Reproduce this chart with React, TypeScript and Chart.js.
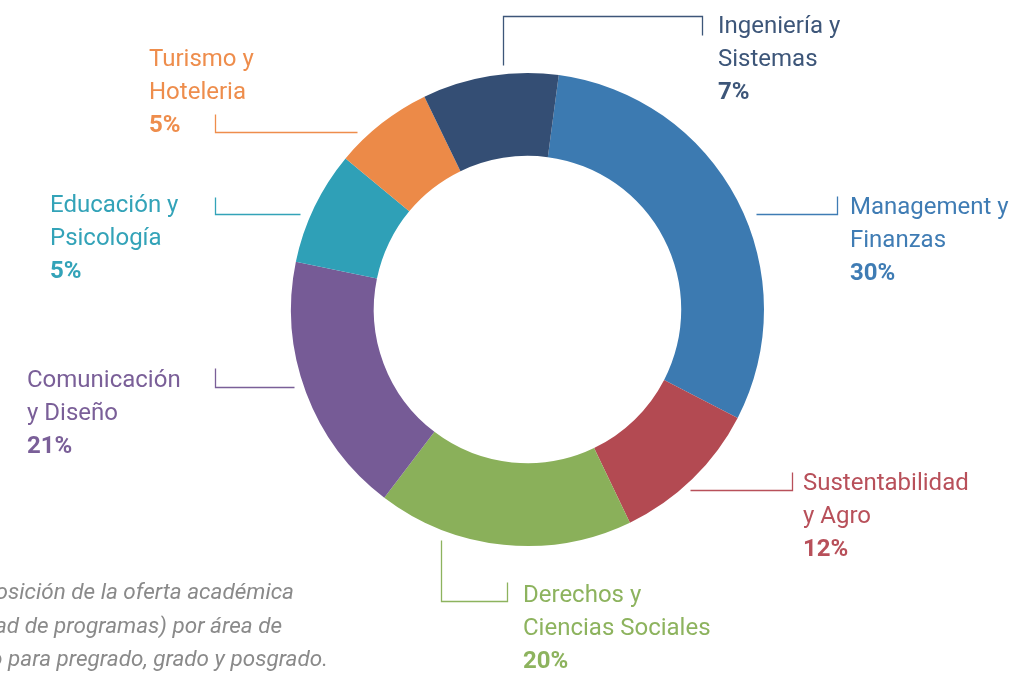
import React, { useEffect, useRef } from "react";
import { Chart, registerables } from "chart.js";

Chart.register(...registerables);

// ---- data ----
const categories = [
  "Management y Finanzas",
  "Sustentabilidad y Agro",
  "Derechos y Ciencias Sociales",
  "Comunicación y Diseño",
  "Educación y Psicología",
  "Turismo y Hoteleria",
  "Ingeniería y Sistemas",
];
const labelLines = [
  ["Management y", "Finanzas"],
  ["Sustentabilidad", "y Agro"],
  ["Derechos y", "Ciencias Sociales"],
  ["Comunicación", "y Diseño"],
  ["Educación y", "Psicología"],
  ["Turismo y", "Hoteleria"],
  ["Ingeniería y", "Sistemas"],
];
const percentLabels = ["30%", "12%", "20%", "21%", "5%", "5%", "7%"];
// arc sizes as measured on the picture
const arcValues = [30.5, 10.3, 17.5, 17.9, 7.8, 6.8, 9.3];
const captionLines = [
  "Composición de la oferta académica",
  "(cantidad de programas) por área de",
  "conocimiento para pregrado, grado y posgrado.",
];

// ---- styles / layout ----
const segColors = ["#3c7ab1", "#b34a52", "#8ab05a", "#765b96", "#2fa0b7", "#ec8a48", "#344e74"];
const textColors = ["#3f7cb4", "#b8505a", "#8db35e", "#7a5f98", "#33a3b8", "#ee8d4c", "#3d5679"];
const labelPos = [
  { x: 850, y: 214 },
  { x: 803, y: 490 },
  { x: 523, y: 602 },
  { x: 27, y: 387 },
  { x: 50, y: 212 },
  { x: 149, y: 66 },
  { x: 718, y: 33 },
];
const connectors: number[][][] = [
  [[756, 214], [837, 214], [837, 196]],
  [[690, 490], [792, 490], [792, 472]],
  [[441, 540], [441, 601], [507, 601], [507, 582]],
  [[215, 368], [215, 387], [294, 387]],
  [[215, 197], [215, 214], [300, 214]],
  [[215, 114], [215, 132], [357, 132]],
  [[503, 65], [503, 16], [702, 16], [702, 35]],
];
const captionRight = [294, 282, 328];
const captionBase = [599, 633, 666];

const labelPlugin = {
  id: "labels",
  afterDraw(chart: any) {
    const ctx = chart.ctx as CanvasRenderingContext2D;
    ctx.save();
    connectors.forEach((pts, i) => {
      ctx.beginPath();
      ctx.strokeStyle = textColors[i];
      ctx.lineWidth = 1.3;
      pts.forEach((p, j) => (j === 0 ? ctx.moveTo(p[0] + 0.5, p[1] + 0.5) : ctx.lineTo(p[0] + 0.5, p[1] + 0.5)));
      ctx.stroke();
    });
    ctx.textBaseline = "alphabetic";
    ctx.textAlign = "left";
    labelLines.forEach((lines, i) => {
      const { x, y } = labelPos[i];
      ctx.fillStyle = textColors[i];
      ctx.font = "400 24px Roboto";
      lines.forEach((t, j) => ctx.fillText(t, x, y + j * 33));
      ctx.font = "700 24px Roboto";
      ctx.fillText(percentLabels[i], x, y + lines.length * 33);
    });
    ctx.fillStyle = "#8a8a8a";
    ctx.font = "italic 400 22.5px Roboto";
    ctx.textAlign = "right";
    captionLines.forEach((t, i) => ctx.fillText(t, captionRight[i], captionBase[i]));
    ctx.restore();
  },
};

export default function App() {
  const ref = useRef<HTMLCanvasElement>(null);
  useEffect(() => {
    if (!ref.current) return;
    const chart = new Chart(ref.current, {
      type: "doughnut",
      data: {
        labels: categories,
        datasets: [
          {
            data: arcValues,
            backgroundColor: segColors,
            borderWidth: 0,
          },
        ],
      },
      options: {
        animation: false,
        responsive: false,
        devicePixelRatio: 1,
        cutout: "65%",
        rotation: 7.6,
        layout: { padding: { top: 73, bottom: 127, left: 291, right: 263 } },
        plugins: {
          legend: { display: false },
          tooltip: { enabled: false },
        },
      },
      plugins: [labelPlugin],
    });
    return () => chart.destroy();
  }, []);
  return (
    <div style={{ position: "fixed", left: 0, top: 0, width: 1027, height: 673, background: "#fff" }}>
      <canvas ref={ref} width={1027} height={673} style={{ display: "block" }} />
    </div>
  );
}
